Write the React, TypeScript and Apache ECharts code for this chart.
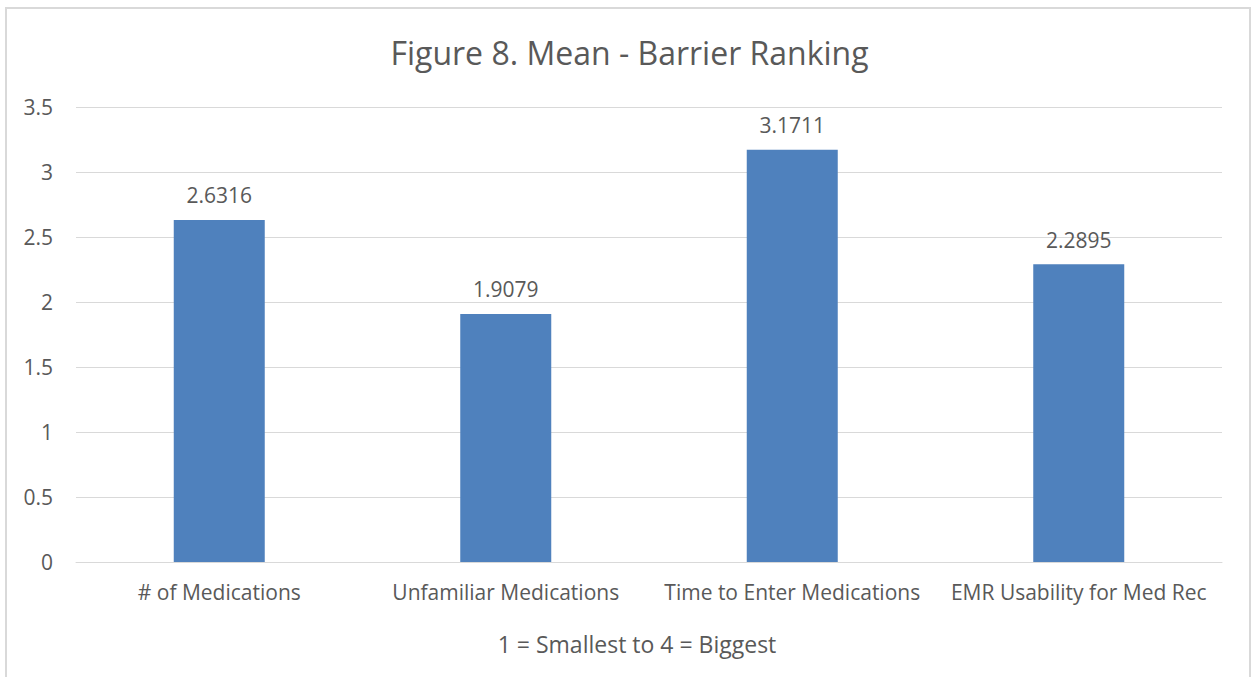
import React, { useEffect, useRef } from "react";
import * as echarts from "echarts";

const categories = [
  "# of Medications",
  "Unfamiliar Medications",
  "Time to Enter Medications",
  "EMR Usability for Med Rec",
];
const means = [2.6316, 1.9079, 3.1711, 2.2895];
const titleText = "Figure 8. Mean - Barrier Ranking";
const xAxisName = "1 = Smallest to 4 = Biggest";

const FONT = "'Open Sans', 'Noto Sans', sans-serif";
const TEXT = "#595959";

export default function App() {
  const ref = useRef<HTMLDivElement>(null);
  useEffect(() => {
    if (!ref.current) return;
    const chart = echarts.init(ref.current, null, { renderer: "svg" });
    chart.setOption({
      animation: false,
      backgroundColor: "#ffffff",
      textStyle: { fontFamily: FONT },
      title: {
        text: titleText,
        left: "center",
        top: 31,
        padding: [5, 9, 5, 5],
        textStyle: { fontFamily: FONT, fontSize: 32, fontWeight: "normal", color: TEXT },
      },
      graphic: [
        {
          type: "rect",
          shape: { x: 6, y: 8, width: 1244, height: 700 },
          style: { fill: "none", stroke: "#d9d9d9", lineWidth: 2 },
          silent: true,
        },
      ],
      grid: { left: 76, right: 37, top: 107, bottom: 115, containLabel: false },
      xAxis: {
        type: "category",
        data: categories,
        name: xAxisName,
        nameLocation: "middle",
        nameGap: 70,
        nameTextStyle: { fontFamily: FONT, fontSize: 23, color: TEXT, padding: [0, 24, 0, 0] },
        axisLine: { show: true, lineStyle: { color: "#d9d9d9", width: 1 } },
        axisTick: { show: false },
        axisLabel: { fontFamily: FONT, fontSize: 21, color: TEXT, margin: 19, interval: 0 },
      },
      yAxis: {
        type: "value",
        min: 0,
        max: 3.5,
        interval: 0.5,
        axisLine: { show: false },
        axisTick: { show: false },
        axisLabel: { fontFamily: FONT, fontSize: 21, color: TEXT, margin: 23 },
        splitLine: { lineStyle: { color: "#d9d9d9", width: 1 } },
      },
      series: [
        {
          type: "bar",
          data: means,
          barWidth: 91,
          itemStyle: { color: "#4f81bd" },
          label: {
            show: true,
            position: "top",
            distance: 14,
            fontFamily: FONT,
            fontSize: 21,
            color: TEXT,
            formatter: (p: any) => String(p.value),
          },
        },
      ],
    });
    return () => chart.dispose();
  }, []);
  return (
    <div
      ref={ref}
      style={{ position: "fixed", left: 0, top: 0, width: 1259, height: 677 }}
    />
  );
}
